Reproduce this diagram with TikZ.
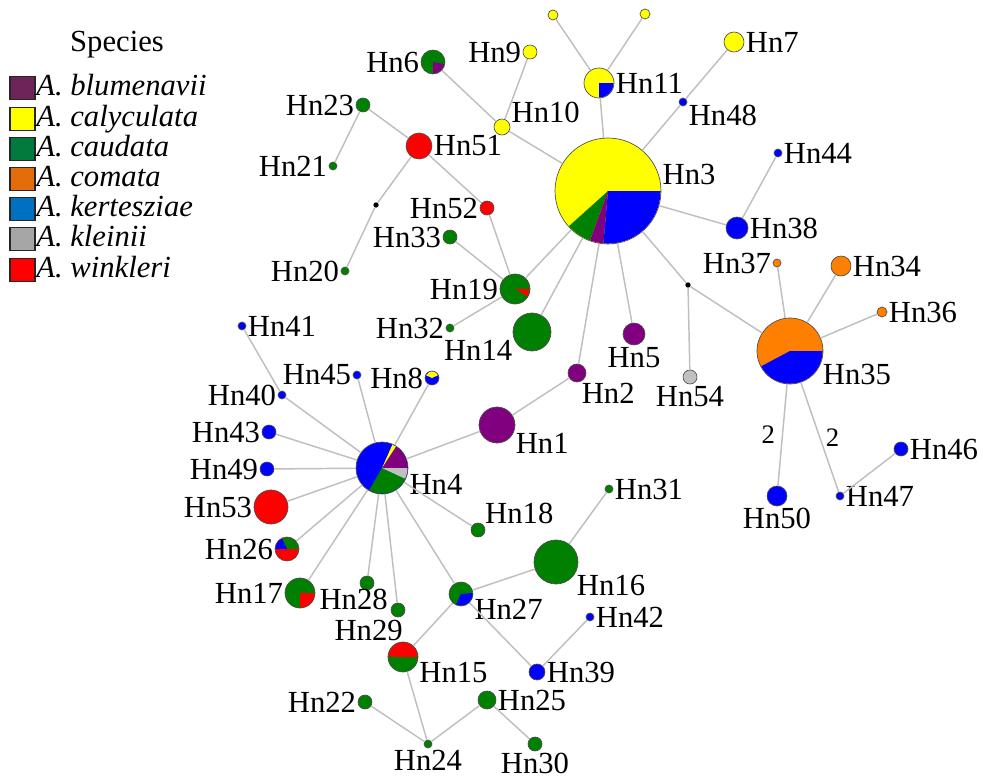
\documentclass[tikz,border=0pt]{standalone}
\usepackage{fontspec}
\setmainfont{Liberation Serif}

\definecolor{cblu}{HTML}{800080}
\definecolor{ccal}{HTML}{FFFF00}
\definecolor{ccau}{HTML}{008000}
\definecolor{ccom}{HTML}{FF8000}
\definecolor{cker}{HTML}{0000FF}
\definecolor{ckle}{HTML}{C0C0C0}
\definecolor{cwin}{HTML}{FF0000}
% legend shades
\definecolor{lblu}{HTML}{6E2458}
\definecolor{lcau}{HTML}{007A3D}
\definecolor{lcom}{HTML}{E46C0A}
\definecolor{lker}{HTML}{0070C0}
\definecolor{lkle}{HTML}{A6A6A6}

\tikzset{
  hap/.style={circle,draw=black!70,line width=.5pt,inner sep=0pt,minimum size=#1},
  mv/.style={circle,fill=black,inner sep=0pt,minimum size=4pt},
  link/.style={draw=black!25,line width=1.1pt},
  swatch/.style={draw=black!85,line width=1.2pt,minimum width=18.5pt,minimum height=17pt,inner sep=0pt},
  spname/.style={anchor=base west,font=\fontsize{23}{24}\selectfont\itshape,inner sep=0pt},
  every label/.append style={font=\fontsize{23}{25}\selectfont,inner sep=1pt},
  steps/.style={font=\fontsize{20}{22}\selectfont,inner sep=1pt}
}

\begin{document}
\begin{tikzpicture}[x=0.75pt,y=0.75pt,label distance=0pt]
    \useasboundingbox (0,0) rectangle (983,-782);

    % Legend
    \node[font=\fontsize{23}{25}\selectfont] (species) at (117,-45) {Species};
    \node[swatch,fill=lblu] (sw1) at (22.5,-88) {};
    \node[swatch,fill=ccal] (sw2) at (22.5,-119) {};
    \node[swatch,fill=lcau] (sw3) at (22.5,-149) {};
    \node[swatch,fill=lcom] (sw4) at (22.5,-179) {};
    \node[swatch,fill=lker] (sw5) at (22.5,-209) {};
    \node[swatch,fill=lkle] (sw6) at (22.5,-239) {};
    \node[swatch,fill=cwin] (sw7) at (22.5,-270) {};
    \node[spname] (tx1) at (36,-95) {A. blumenavii};
    \node[spname] (tx2) at (36,-126) {A. calyculata};
    \node[spname] (tx3) at (36,-156) {A. caudata};
    \node[spname] (tx4) at (36,-186) {A. comata};
    \node[spname] (tx5) at (36,-216) {A. kertesziae};
    \node[spname] (tx6) at (36,-246) {A. kleinii};
    \node[spname] (tx7) at (36,-277) {A. winkleri};

    % Upper cluster
    \node[hap=79.5pt,fill=ccal,label=5:Hn3] (hn3) at (608,-191) {};
    \node[hap=22.5pt,fill=ccal,label=right:Hn11] (hn11) at (599,-83) {};
    \node[hap=7.5pt,fill=ccal] (ya) at (553,-15) {};
    \node[hap=7.5pt,fill=ccal] (yb) at (645,-14) {};
    \node[hap=15pt,fill=ccal,label=right:Hn7] (hn7) at (734,-42) {};
    \node[hap=6pt,fill=cker,label=-15:Hn48] (hn48) at (683,-102) {};
    \node[hap=6pt,fill=cker,label=right:Hn44] (hn44) at (778,-153) {};
    \node[hap=16.5pt,fill=cker,label=right:Hn38] (hn38) at (737,-228) {};
    \node[hap=10.5pt,fill=ccal,label=left:Hn9] (hn9) at (530,-52) {};
    \node[hap=12pt,fill=ccal,label=15:Hn10] (hn10) at (502,-127) {};
    \node[hap=18pt,fill=ccau,label=left:Hn6] (hn6) at (433,-62) {};
    \node[hap=10.5pt,fill=ccau,label=left:Hn23] (hn23) at (363,-105) {};
    \node[hap=19.5pt,fill=cwin,label=right:Hn51] (hn51) at (419,-146) {};
    \node[hap=6pt,fill=ccau,label=left:Hn21] (hn21) at (333,-166) {};
    \node[mv] (mv1) at (376,-205) {};
    \node[hap=6pt,fill=ccau,label=left:Hn20] (hn20) at (345,-271) {};
    \node[hap=10.5pt,fill=cwin,label=left:Hn52] (hn52) at (487,-208) {};
    \node[hap=10.5pt,fill=ccau,label=left:Hn33] (hn33) at (450,-237) {};
    \node[hap=22.5pt,fill=ccau,label=left:Hn19] (hn19) at (515,-289) {};
    \node[hap=6pt,fill=ccau,label=left:Hn32] (hn32) at (450,-328) {};
    \node[hap=28.5pt,fill=ccau,label=200:Hn14] (hn14) at (532,-332) {};
    \node[hap=13.5pt,fill=cblu,label=-70:Hn2] (hn2) at (577,-373) {};
    \node[hap=16.5pt,fill=cblu,label=below:Hn5] (hn5) at (634,-334) {};
    \node[mv] (mv2) at (688,-285) {};
    \node[hap=10.5pt,fill=ckle,label=below:Hn54] (hn54) at (690,-377) {};

    % Hn35 group
    \node[hap=49.5pt,fill=ccom,label=-20:Hn35] (hn35) at (790,-351) {};
    \node[hap=6pt,fill=ccom,label=left:Hn37] (hn37) at (777,-263) {};
    \node[hap=15pt,fill=ccom,label=right:Hn34] (hn34) at (841,-266) {};
    \node[hap=7.5pt,fill=ccom,label=right:Hn36] (hn36) at (882,-312) {};
    \node[hap=15pt,fill=cker,label=below:Hn50] (hn50) at (777,-496) {};
    \node[hap=6pt,fill=cker,label=right:Hn47] (hn47) at (840,-496) {};
    \node[hap=10.5pt,fill=cker,label=right:Hn46] (hn46) at (901,-449) {};

    % Hn4 group
    \node[hap=39pt,fill=cker,label=-10:Hn4] (hn4) at (382,-468) {};
    \node[hap=27pt,fill=cblu,label=-20:Hn1] (hn1) at (497,-425) {};
    \node[hap=6pt,fill=cker,label=right:Hn41] (hn41) at (242,-326) {};
    \node[hap=6pt,fill=cker,label=left:Hn40] (hn40) at (282,-395) {};
    \node[hap=6pt,fill=cker,label=left:Hn45] (hn45) at (357,-375) {};
    \node[hap=10.5pt,fill=cker,label=left:Hn8] (hn8) at (432,-378) {};
    \node[hap=10.5pt,fill=cker,label=left:Hn43] (hn43) at (269,-432) {};
    \node[hap=10.5pt,fill=cker,label=left:Hn49] (hn49) at (267,-469) {};
    \node[hap=25.5pt,fill=cwin,label=left:Hn53] (hn53) at (271,-507) {};
    \node[hap=18pt,fill=cwin,label=left:Hn26] (hn26) at (287,-549) {};
    \node[hap=22.5pt,fill=ccau,label=left:Hn17] (hn17) at (300,-593) {};
    \node[hap=10.5pt,fill=ccau,label={[xshift=-10pt,yshift=2pt]below:Hn28}] (hn28) at (367,-583) {};
    \node[hap=10.5pt,fill=ccau,label={[xshift=-22pt,yshift=-1pt]below:Hn29}] (hn29) at (398,-610) {};
    \node[hap=10.5pt,fill=ccau,label=40:Hn18] (hn18) at (478,-530) {};

    % Lower cluster
    \node[hap=33pt,fill=ccau,label=-30:Hn16] (hn16) at (556,-562) {};
    \node[hap=6pt,fill=ccau,label=right:Hn31] (hn31) at (609,-489) {};
    \node[hap=18pt,fill=ccau,label=-15:Hn27] (hn27) at (461,-594) {};
    \node[hap=6pt,fill=cker,label=right:Hn42] (hn42) at (590,-617) {};
    \node[hap=12pt,fill=cker,label=right:Hn39] (hn39) at (537,-672) {};
    \node[hap=22.5pt,fill=ccau,label=-15:Hn15] (hn15) at (403,-657) {};
    \node[hap=10.5pt,fill=ccau,label=left:Hn22] (hn22) at (365,-702) {};
    \node[hap=13.5pt,fill=ccau,label=right:Hn25] (hn25) at (487,-700) {};
    \node[hap=6pt,fill=ccau,label=below:Hn24] (hn24) at (428,-744) {};
    \node[hap=10.5pt,fill=ccau,label=below:Hn30] (hn30) at (535,-744) {};

    % Pie slices
    \fill[ccau] (hn3.center) -- ++(222:39.4pt) arc[start angle=222,end angle=250,radius=39.4pt] -- cycle;
    \fill[cblu] (hn3.center) -- ++(250:39.4pt) arc[start angle=250,end angle=265,radius=39.4pt] -- cycle;
    \fill[cker] (hn3.center) -- ++(265:39.4pt) arc[start angle=265,end angle=360,radius=39.4pt] -- cycle;
    \fill[cker] (hn11.center) -- ++(270:10.9pt) arc[start angle=270,end angle=360,radius=10.9pt] -- cycle;
    \fill[cblu] (hn6.center) -- ++(270:8.6pt) arc[start angle=270,end angle=350,radius=8.6pt] -- cycle;
    \fill[cwin] (hn19.center) -- ++(330:10.9pt) arc[start angle=330,end angle=360,radius=10.9pt] -- cycle;
    \fill[ccal] (hn8.center) -- ++(25:4.9pt) arc[start angle=25,end angle=155,radius=4.9pt] -- cycle;
    \fill[cblu] (hn4.center) -- ++(0:19.1pt) arc[start angle=0,end angle=57,radius=19.1pt] -- cycle;
    \fill[ccal] (hn4.center) -- ++(57:19.1pt) arc[start angle=57,end angle=66,radius=19.1pt] -- cycle;
    \fill[ccau] (hn4.center) -- ++(240:19.1pt) arc[start angle=240,end angle=335,radius=19.1pt] -- cycle;
    \fill[ckle] (hn4.center) -- ++(335:19.1pt) arc[start angle=335,end angle=360,radius=19.1pt] -- cycle;
    \fill[ccau] (hn26.center) -- ++(0:8.6pt) arc[start angle=0,end angle=115,radius=8.6pt] -- cycle;
    \fill[cker] (hn26.center) -- ++(115:8.6pt) arc[start angle=115,end angle=180,radius=8.6pt] -- cycle;
    \fill[cwin] (hn17.center) -- ++(270:10.9pt) arc[start angle=270,end angle=360,radius=10.9pt] -- cycle;
    \fill[cker] (hn27.center) -- ++(245:8.6pt) arc[start angle=245,end angle=365,radius=8.6pt] -- cycle;
    \fill[cwin] (hn15.center) -- ++(0:10.9pt) arc[start angle=0,end angle=178,radius=10.9pt] -- cycle;
    \fill[cker] (hn35.center) -- ++(208:24.4pt) arc[start angle=208,end angle=360,radius=24.4pt] -- cycle;

    % Links
    \draw[link] (hn3) -- (hn11);
    \draw[link] (hn11) -- (ya);
    \draw[link] (hn11) -- (yb);
    \draw[link] (hn3) -- (hn48);
    \draw[link] (hn48) -- (hn7);
    \draw[link] (hn3) -- (hn38);
    \draw[link] (hn38) -- (hn44);
    \draw[link] (hn3) -- (hn10);
    \draw[link] (hn10) -- (hn9);
    \draw[link] (hn10) -- (hn6);
    \draw[link] (hn51) -- (hn23);
    \draw[link] (hn23) -- (hn21);
    \draw[link] (hn51) -- (mv1);
    \draw[link] (mv1) -- (hn20);
    \draw[link] (hn51) -- (hn52);
    \draw[link] (hn52) -- (hn19);
    \draw[link] (hn33) -- (hn19);
    \draw[link] (hn32) -- (hn19);
    \draw[link] (hn3) -- (hn19);
    \draw[link] (hn3) -- (hn14);
    \draw[link] (hn3) -- (hn2);
    \draw[link] (hn2) -- (hn1);
    \draw[link] (hn3) -- (hn5);
    \draw[link] (hn3) -- (mv2);
    \draw[link] (mv2) -- (hn54);
    \draw[link] (mv2) -- (hn35);
    \draw[link] (hn35) -- (hn37);
    \draw[link] (hn35) -- (hn34);
    \draw[link] (hn35) -- (hn36);
    \draw[link] (hn35) -- node[steps,left=4pt] {2} (hn50);
    \draw[link] (hn35) -- node[steps,right=3pt] {2} (hn47);
    \draw[link] (hn47) -- (hn46);
    \draw[link] (hn1) -- (hn4);
    \draw[link] (hn41) -- (hn40);
    \draw[link] (hn40) -- (hn4);
    \draw[link] (hn45) -- (hn4);
    \draw[link] (hn8) -- (hn4);
    \draw[link] (hn43) -- (hn4);
    \draw[link] (hn49) -- (hn4);
    \draw[link] (hn53) -- (hn4);
    \draw[link] (hn26) -- (hn4);
    \draw[link] (hn17) -- (hn4);
    \draw[link] (hn28) -- (hn4);
    \draw[link] (hn29) -- (hn4);
    \draw[link] (hn18) -- (hn4);
    \draw[link] (hn27) -- (hn4);
    \draw[link] (hn27) -- (hn16);
    \draw[link] (hn16) -- (hn31);
    \draw[link] (hn27) -- (hn39);
    \draw[link] (hn39) -- (hn42);
    \draw[link] (hn27) -- (hn15);
    \draw[link] (hn15) -- (hn24);
    \draw[link] (hn24) -- (hn22);
    \draw[link] (hn24) -- (hn25);
    \draw[link] (hn25) -- (hn30);
\end{tikzpicture}
\end{document}
